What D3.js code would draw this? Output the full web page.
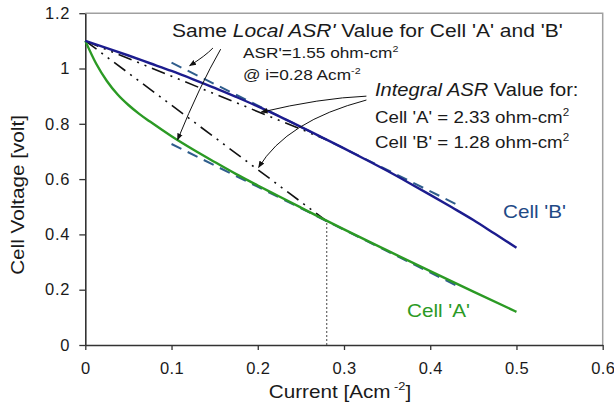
<!DOCTYPE html>
<html>
<head>
<meta charset="utf-8" />
<script src="https://cdn.jsdelivr.net/npm/d3@7"></script>
<style>
html, body { margin: 0; background: #fff; }
text { font-family: "Liberation Sans", Arial, sans-serif; fill: #1a1a1a; }
</style>
</head>
<body>
<div id="chart"></div>
<script>
// Cell 'A' polarisation curve (current in A/cm2, voltage in volt)
var currentA = [0, 0.0125, 0.025, 0.0375, 0.05, 0.0625, 0.075, 0.1, 0.125, 0.15, 0.175, 0.2, 0.225, 0.25, 0.275, 0.3, 0.35, 0.4, 0.45, 0.5];
var voltageA = [1.1, 1.018, 0.955, 0.906, 0.868, 0.836, 0.808, 0.755, 0.707, 0.662, 0.618, 0.577, 0.537, 0.497, 0.457, 0.418, 0.342, 0.267, 0.193, 0.12];

// Cell 'B' polarisation curve
var currentB = [0, 0.025, 0.05, 0.075, 0.1, 0.125, 0.15, 0.175, 0.2, 0.225, 0.25, 0.275, 0.3, 0.325, 0.35, 0.375, 0.4, 0.425, 0.45, 0.475, 0.5];
var voltageB = [1.1, 1.074, 1.047, 1.019, 0.991, 0.961, 0.93, 0.897, 0.863, 0.827, 0.789, 0.75, 0.711, 0.671, 0.63, 0.587, 0.543, 0.498, 0.452, 0.402, 0.352];

// local ASR' tangents at i = 0.28 (slope 1.55 ohm-cm2)
var tangentA = [[0.1, 0.727], [0.43, 0.2155]];
var tangentB = [[0.1, 1.021], [0.43, 0.5095]];

// integral ASR chords from OCV to i = 0.28
var chordA = [[0, 1.1], [0.28, 0.448]];
var chordB = [[0, 1.1], [0.28, 0.742]];
var markCurrent = [[0.28, 0], [0.28, 0.448]];

// annotation arrows: start, control, end (data units)
var arrows = [
  [[0.148, 1.074], [0.139, 1.045], [0.121, 1.01]],
  [[0.157, 1.07], [0.133, 0.94], [0.107, 0.742]],
  [[0.326, 0.9], [0.272, 0.893], [0.204, 0.842]],
  [[0.326, 0.886], [0.2335, 0.81], [0.201, 0.642]]
];

var xTicks = [0, 0.1, 0.2, 0.3, 0.4, 0.5, 0.6];
var xTickLabels = ["0", "0.1", "0.2", "0.3", "0.4", "0.5", "0.6"];
var yTicks = [0, 0.2, 0.4, 0.6, 0.8, 1, 1.2];
var yTickLabels = ["0", "0.2", "0.4", "0.6", "0.8", "1", "1.2"];

var width = 614, height = 409;
var sx = 1.15; // the source figure is a little stretched sideways

var svg = d3.select("#chart").append("svg")
  .attr("width", width)
  .attr("height", height);

var x = d3.scaleLinear().domain([0, 0.6]).range([85.3, 602.7]);
var y = d3.scaleLinear().domain([0, 1.2]).range([345, 13.2]);

var defs = svg.append("defs");
defs.append("marker")
  .attr("id", "head")
  .attr("viewBox", "0 0 10 10")
  .attr("refX", 9).attr("refY", 5)
  .attr("markerWidth", 7).attr("markerHeight", 7)
  .attr("markerUnits", "userSpaceOnUse")
  .attr("orient", "auto")
  .append("path")
  .attr("d", "M0,1 L10,5 L0,9 Z")
  .attr("fill", "#111");

// frame (top and right in light grey)
svg.append("path")
  .attr("d", "M" + x(0) + "," + y(1.2) + "H" + x(0.6) + "V" + y(0))
  .attr("fill", "none")
  .attr("stroke", "#a0a0a0")
  .attr("stroke-width", 1.5);

var xAxis = svg.append("g")
  .attr("transform", "translate(0," + y(0) + ")")
  .call(d3.axisBottom(x).tickValues(xTicks).tickSize(5).tickSizeOuter(0).tickPadding(12)
    .tickFormat(function (d, i) { return xTickLabels[i]; }));

var yAxis = svg.append("g")
  .attr("transform", "translate(" + x(0) + ",0)")
  .call(d3.axisLeft(y).tickValues(yTicks).tickSize(6).tickSizeOuter(0).tickPadding(9)
    .tickFormat(function (d, i) { return yTickLabels[i]; }));

[xAxis, yAxis].forEach(function (g) {
  g.select(".domain").attr("stroke", "#333").attr("stroke-width", 1.6);
  g.selectAll(".tick line").attr("stroke", "#333").attr("stroke-width", 1.3);
  g.selectAll(".tick text")
    .attr("font-size", 16.5)
    .attr("fill", "#1a1a1a")
    .style("font-family", '"Liberation Sans", Arial, sans-serif');
});
yAxis.selectAll(".tick text").attr("letter-spacing", 0.8);
xAxis.selectAll(".tick text").attr("letter-spacing", 0.4);

var line = d3.line().x(function (d) { return x(d[0]); }).y(function (d) { return y(d[1]); });
var smooth = d3.line().curve(d3.curveMonotoneX)
  .x(function (d) { return x(d[0]); }).y(function (d) { return y(d[1]); });

// dotted marker at i = 0.28
svg.append("path")
  .attr("d", line(markCurrent))
  .attr("fill", "none")
  .attr("stroke", "#444")
  .attr("stroke-width", 1)
  .attr("stroke-dasharray", "2,2");

// chords (dash-dot-dot)
[chordA, chordB].forEach(function (c) {
  svg.append("path")
    .attr("d", line(c))
    .attr("fill", "none")
    .attr("stroke", "#111")
    .attr("stroke-width", 1.6)
    .attr("stroke-dasharray", "14,6,2,6,2,6");
});

// tangents (dashed steel blue)
[tangentA, tangentB].forEach(function (t) {
  svg.append("path")
    .attr("d", line(t))
    .attr("fill", "none")
    .attr("stroke", "#2f5d8c")
    .attr("stroke-width", 2)
    .attr("stroke-dasharray", "11,7");
});

svg.append("path")
  .attr("d", smooth(currentA.map(function (c, i) { return [c, voltageA[i]]; })))
  .attr("fill", "none")
  .attr("stroke", "#2b9a24")
  .attr("stroke-width", 2.4);

svg.append("path")
  .attr("d", smooth(currentB.map(function (c, i) { return [c, voltageB[i]]; })))
  .attr("fill", "none")
  .attr("stroke", "#1c1c8e")
  .attr("stroke-width", 2.4);

// annotation arrows
arrows.forEach(function (a) {
  var p = d3.path();
  p.moveTo(x(a[0][0]), y(a[0][1]));
  p.quadraticCurveTo(x(a[1][0]), y(a[1][1]), x(a[2][0]), y(a[2][1]));
  svg.append("path")
    .attr("d", p.toString())
    .attr("fill", "none")
    .attr("stroke", "#111")
    .attr("stroke-width", 1)
    .attr("marker-end", "url(#head)");
});

// text helper: parts are [string, kind] with kind "", "i" (italic), "sup"
function label(px, py, parts, size, color, anchor, rotate) {
  var t = svg.append("text")
    .attr("transform", "translate(" + px + "," + py + ")" + (rotate ? " rotate(-90)" : "") + " scale(" + sx + ",1)")
    .attr("font-size", size)
    .attr("text-anchor", anchor || "start")
    .style("fill", color || "#1a1a1a");
  var raised = false;
  parts.forEach(function (p) {
    var s = t.append("tspan").text(p[0]);
    if (p[1] === "i") s.attr("font-style", "italic");
    if (p[1] === "sup") {
      s.attr("font-size", size * 0.62).attr("dy", -size * 0.42);
      raised = true;
    } else if (raised) {
      s.attr("dy", size * 0.42);
      raised = false;
    }
  });
  return t;
}

label(172, 37, [["Same "], ["Local ASR'", "i"], [" Value for Cell 'A' and 'B'"]], 18.3);
label(243, 58, [["ASR'=1.55 ohm-cm"], ["2", "sup"]], 15);
label(243, 80, [["@ i=0.28 Acm"], ["-2", "sup"]], 15);
label(375, 96, [["Integral ASR", "i"], ["  Value for:"]], 17.5);
label(375, 123, [["Cell 'A' = 2.33 ohm-cm"], ["2", "sup"]], 16.3);
label(375, 148, [["Cell 'B' = 1.28 ohm-cm"], ["2", "sup"]], 16.3);

label(503, 218, [["Cell 'B'"]], 18, "#1f4a86");
label(407, 317, [["Cell 'A'"]], 18, "#2b9a24");

label(340, 398, [["Current [Acm"], [" -2", "sup"], ["]"]], 18, null, "middle");
label(24, 195, [["Cell Voltage [volt]"]], 18, null, "middle", true);
</script>
</body>
</html>
